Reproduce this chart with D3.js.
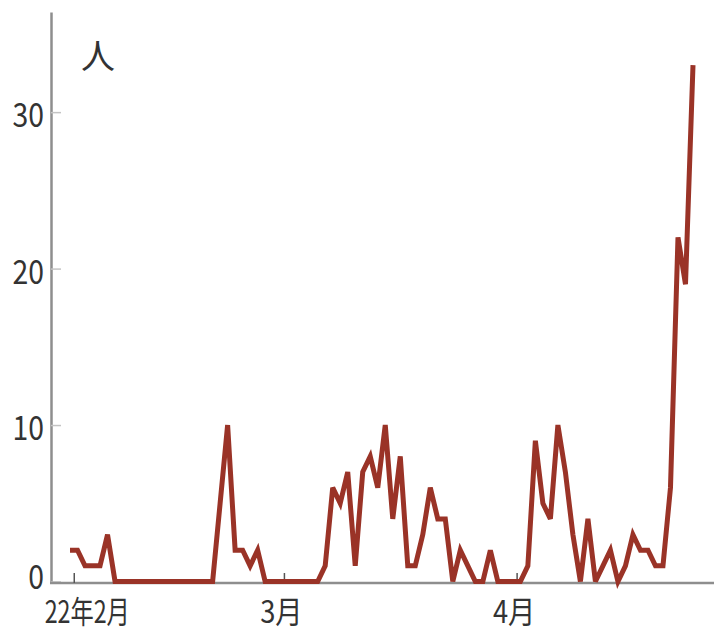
<!DOCTYPE html>
<html>
<head>
<meta charset="utf-8">
<script src="https://cdn.jsdelivr.net/npm/d3@7"></script>
<style>
  html, body { margin: 0; padding: 0; background: #fff; }
  svg { display: block; }
</style>
</head>
<body>
<svg id="chart" width="714" height="633"></svg>
<script>
// ---- data ----
const startDate = "2022-01-31";
const counts = [
  2, 2, 1, 1, 1, 3, 0, 0, 0, 0,
  0, 0, 0, 0, 0, 0, 0, 0, 0, 0,
  5, 10, 2, 2, 1, 2, 0, 0, 0, 0,
  0, 0, 0, 0, 1, 6, 5, 7, 1, 7,
  8, 6, 10, 4, 8, 1, 1, 3, 6, 4,
  4, 0, 2, 1, 0, 0, 2, 0, 0, 0,
  0, 1, 9, 5, 4, 10, 7, 3, 0, 4,
  0, 1, 2, 0, 1, 3, 2, 2, 1, 1,
  6, 22, 19, 33
];
const yTicks = [0, 10, 20, 30];
const xTickDates = ["2022-02-01", "2022-03-01", "2022-04-01"];
const xTickLabels = ["22年2月", "3月", "4月"];
const unitLabel = "人";

// ---- build ----
const parse = d3.utcParse("%Y-%m-%d");
const day0 = parse(startDate);
const data = counts.map((v, i) => ({ date: d3.utcHour.offset(d3.utcDay.offset(day0, i), 12), value: v }));

const svg = d3.select("#chart");
const font = "'Noto Sans CJK JP', 'Noto Sans', sans-serif";
const textColor = "#333";
const axisColor = "#8e8e8e";

const x = d3.scaleUtc()
  .domain([data[0].date, data[data.length - 1].date])
  .range([70, 693]);
const y = d3.scaleLinear().domain([0, 36.4]).range([581.5, 12]);

// y axis
const yAxis = d3.axisLeft(y).tickValues(yTicks).tickSize(-10).tickSizeOuter(0).tickPadding(0);
const gy = svg.append("g").attr("transform", "translate(51,0)").call(yAxis);
gy.select(".domain").attr("stroke", axisColor).attr("stroke-width", 2.5);
gy.selectAll(".tick line").attr("stroke", "#c4c4c4").attr("stroke-width", 1.5);
gy.selectAll(".tick text")
  .attr("x", null).attr("dy", null)
  .attr("font-family", font).attr("font-size", 33).attr("fill", textColor)
  .attr("text-anchor", "end").attr("dominant-baseline", "central")
  .attr("transform", d => `translate(-7,${d === 0 ? -7 : 0}) scale(0.86,1)`);

// x axis
const gx = svg.append("g").attr("transform", "translate(0,583)")
  .call(d3.axisBottom(x)
    .tickValues(xTickDates.map(parse))
    .tickSize(-10).tickSizeOuter(0).tickPadding(0)
    .tickFormat((d, i) => xTickLabels[i]));
gx.select(".domain").remove();
gx.insert("line", ":first-child")
  .attr("x1", 50).attr("x2", 714).attr("y1", 0).attr("y2", 0)
  .attr("stroke", axisColor).attr("stroke-width", 2.5);
gx.selectAll(".tick line").attr("stroke", "#555").attr("stroke-width", 1.5);
gx.selectAll(".tick text")
  .attr("y", null).attr("dy", null)
  .attr("font-family", font).attr("font-size", 31).attr("fill", textColor)
  .attr("text-anchor", "middle").attr("dominant-baseline", "central")
  .attr("transform", (d, i) => `translate(${i === 0 ? 13 : -3},26) scale(${i === 0 ? 0.75 : 0.88},1)`);

// unit label
svg.append("text")
  .attr("x", 98).attr("y", 54)
  .attr("font-family", font).attr("font-size", 34).attr("fill", textColor)
  .attr("text-anchor", "middle").attr("dominant-baseline", "central")
  .text(unitLabel);

// line
const line = d3.line().x(d => x(d.date)).y(d => y(d.value));
svg.append("path")
  .datum(data)
  .attr("d", line)
  .attr("fill", "none")
  .attr("stroke", "#9a3327")
  .attr("stroke-width", 5)
  .attr("stroke-linejoin", "miter")
  .attr("stroke-miterlimit", 3);
</script>
</body>
</html>
